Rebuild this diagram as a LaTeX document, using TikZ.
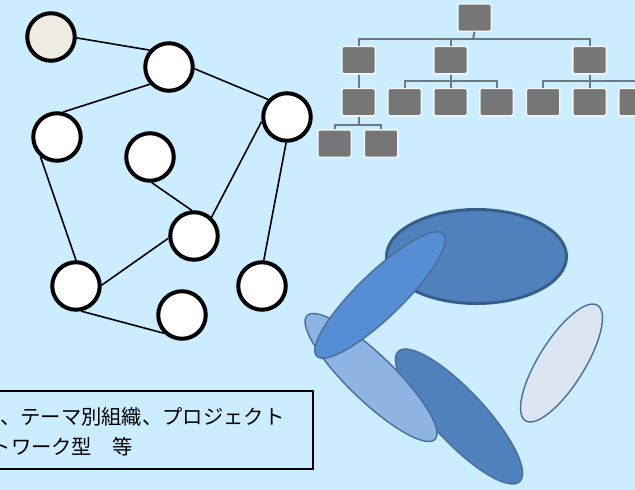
\documentclass[tikz,border=0pt]{standalone}
\usepackage{fontspec}
\newfontfamily\jpfont{Noto Sans CJK JP}
\definecolor{bgblue}{HTML}{CCECFF}
\definecolor{beige}{HTML}{EEECE1}
\definecolor{orgbox}{HTML}{767676}
\definecolor{orgline}{HTML}{6F7A80}
\definecolor{darkblue}{HTML}{4F81BD}
\definecolor{darkedge}{HTML}{385D8A}
\definecolor{midblue}{HTML}{558ED5}
\definecolor{lightblue}{HTML}{8EB4E3}
\definecolor{paleblue}{HTML}{DCE6F2}
\definecolor{thinedge}{HTML}{4A6E96}
\tikzset{
  netnode/.style={circle, draw=black, line width=4pt, fill=white, minimum size=47.5pt, inner sep=0pt},
  netedge/.style={draw=black, line width=1.6pt},
  orgnode/.style={rectangle, rounded corners=1.5pt, fill=orgbox, draw=white!92!gray, line width=1.5pt, minimum width=33.5pt, minimum height=27.5pt, inner sep=0pt},
  conn/.style={draw=orgline, line width=2pt},
  ell/.style={draw=thinedge, line width=1.4pt},
  jptext/.style={font=\jpfont\fontsize{20.3}{30}\selectfont, inner sep=0pt, anchor=base west}
}
\begin{document}
\begin{tikzpicture}[x=1pt, y=-1pt]
\useasboundingbox (0,0) rectangle (635,490);
\clip (0,0) rectangle (635,490);
\fill[bgblue] (0,0) rectangle (635,490);

% ---------- network graph ----------
\node[netnode, fill=beige] (n1) at (51,37) {};
\node[netnode] (n2) at (169,67) {};
\node[netnode] (n3) at (287,117) {};
\node[netnode] (n4) at (57,137) {};
\node[netnode] (n5) at (150,157) {};
\node[netnode] (n6) at (194,236) {};
\node[netnode] (n7) at (76,286) {};
\node[netnode] (n8) at (262,286) {};
\node[netnode] (n9) at (182,315) {};
\path[netedge] (n1.-2) -- (n2.139);
\path[netedge] (n2.222) -- (n4.76);
\path[netedge] (n2.-4) -- (n3.137);
\path[netedge] (n4.230) -- (n7.90);
\path[netedge] (n5.274) -- (n6.95);
\path[netedge] (n3.190) -- (n6.47);
\path[netedge] (n6.185) -- (n7.2);
\path[netedge] (n3.268) -- (n8.86);
\path[netedge] (n7.282) -- (n9.225);

% ---------- org chart ----------
\node[orgnode] (o0) at (474.5,17.5) {};
\node[orgnode] (o1a) at (358.5,60) {};
\node[orgnode] (o1b) at (450.5,60) {};
\node[orgnode] (o1c) at (589.5,60) {};
\node[orgnode] (o2a) at (358.5,102) {};
\node[orgnode] (o2b) at (404.5,102) {};
\node[orgnode] (o2c) at (450.5,102) {};
\node[orgnode] (o2d) at (496.5,102) {};
\node[orgnode] (o2e) at (543,102) {};
\node[orgnode] (o2f) at (589.5,102) {};
\node[orgnode] (o2g) at (635.5,102) {};
\node[orgnode] (o3a) at (334.5,143.5) {};
\node[orgnode] (o3b) at (381,143.5) {};
\coordinate (b0) at (473,39);
\coordinate (bb) at (450.5,81);
\coordinate (bc) at (589.5,81);
\coordinate (ba) at (358.5,125);
\path[conn] (o0.south) -- (b0);
\path[conn] (b0) -| (o1a.north);
\path[conn] (b0) -| (o1b.north);
\path[conn] (b0) -| (o1c.north);
\path[conn] (o1a.south) -- (o2a.north);
\path[conn] (o1b.south) -- (bb);
\path[conn] (bb) -| (o2b.north);
\path[conn] (bb) -- (o2c.north);
\path[conn] (bb) -| (o2d.north);
\path[conn] (o1c.south) -- (bc);
\path[conn] (bc) -| (o2e.north);
\path[conn] (bc) -- (o2f.north);
\path[conn] (bc) -| (o2g.north);
\path[conn] (o2a.south) -- (ba);
\path[conn] (ba) -| (o3a.north);
\path[conn] (ba) -| (o3b.north);

% ---------- ellipses ----------
\path[fill=darkblue, draw=darkedge, line width=3pt] (476.5,256.5) ellipse [x radius=90pt, y radius=47pt];
\path[ell, fill=darkblue] (459,416.5) ellipse [x radius=89pt, y radius=26pt, rotate=-47];
\path[ell, fill=lightblue] (371,377.5) ellipse [x radius=89pt, y radius=23pt, rotate=-44];
\path[ell, fill=midblue] (380,295) ellipse [x radius=88pt, y radius=22.5pt, rotate=44];
\path[ell, fill=paleblue] (561.5,363) ellipse [x radius=68pt, y radius=23pt, rotate=58];

% ---------- text box ----------
\path[draw=black, line width=1.3pt] (-5,391) rectangle (313,469);
\node[jptext] (t1) at (0,424.5) {、テーマ別組織、プロジェクト};
\node[jptext] (t2) at (-9.5,454.5) {トワーク型　等};
\end{tikzpicture}
\end{document}
